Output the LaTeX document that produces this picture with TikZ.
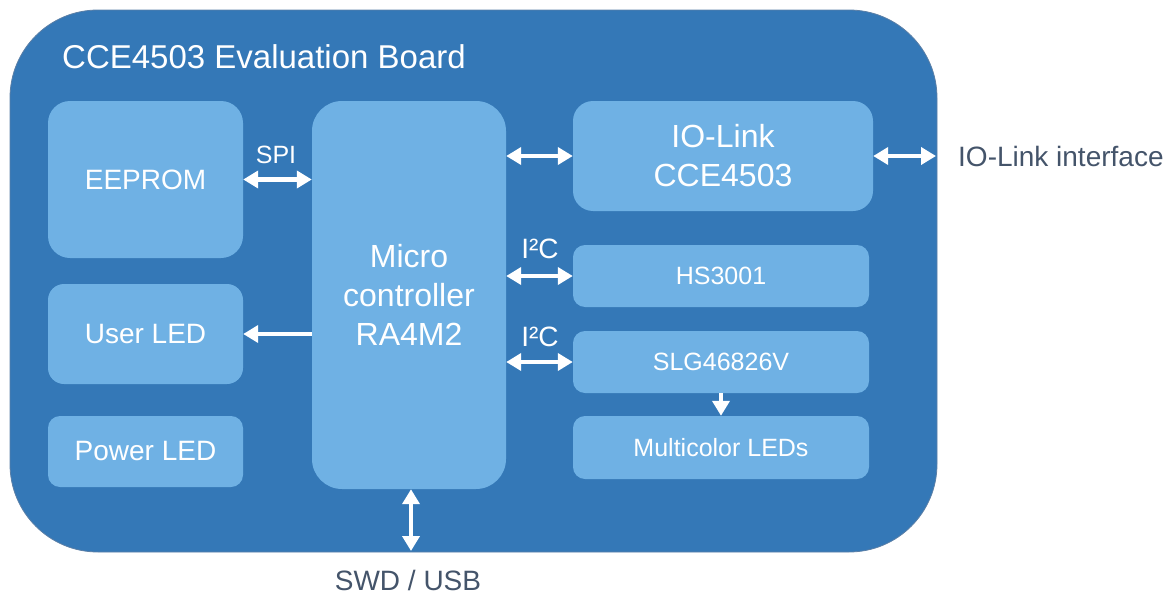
\documentclass[tikz,border=0pt]{standalone}
\usepackage{fontspec}
\setmainfont{Liberation Sans}
\usetikzlibrary{arrows.meta}
\definecolor{board}{HTML}{3478B7}
\definecolor{boardline}{HTML}{5B7FA6}
\definecolor{blk}{HTML}{6FB1E4}
\definecolor{dtext}{HTML}{44546A}
\tikzset{
  blkbox/.style={fill=blk, draw=none, text=white, align=center, inner sep=0pt},
  dbl/.style={draw=white, line width=4.4pt, {Triangle[length=15pt,width=17pt]}-{Triangle[length=15pt,width=17pt]}},
  sgl/.style={draw=white, line width=4.4pt, -{Triangle[length=15pt,width=17pt]}},
  lbl/.style={text=white, inner sep=0pt},
  fs/.style={font=\fontsize{#1}{39}\selectfont}
}
\begin{document}
\begin{tikzpicture}[x=1pt,y=-1pt]
\useasboundingbox (0,0) rectangle (1176,597);
% board
\draw[fill=board, draw=boardline, line width=0.8pt, rounded corners=88pt] (10,10) rectangle (937,552);
\node[lbl, anchor=base west, fs=33] (title) at (62,68) {CCE4503 Evaluation Board};
% blocks
\node[blkbox, rounded corners=22pt, minimum width=195pt, minimum height=157pt, fs=28] (eeprom) at (145.5,179.5) {EEPROM};
\node[blkbox, rounded corners=16pt, minimum width=195pt, minimum height=100pt, fs=28] (uled) at (145.5,334) {User LED};
\node[blkbox, rounded corners=12pt, minimum width=195pt, minimum height=71pt, fs=28] (pled) at (145.5,451.5) {Power LED};
\node[blkbox, rounded corners=30pt, minimum width=194pt, minimum height=388pt, fs=32] (mcu) at (409,295) {Micro\\controller\\RA4M2};
\node[blkbox, rounded corners=20pt, minimum width=300pt, minimum height=110pt, fs=32] (io) at (723,156) {IO-Link\\CCE4503};
\node[blkbox, rounded corners=12pt, minimum width=296pt, minimum height=62pt, fs=25] (hs) at (721,276) {HS3001};
\node[blkbox, rounded corners=12pt, minimum width=296pt, minimum height=62pt, fs=25] (slg) at (721,362) {SLG46826V};
\node[blkbox, rounded corners=12pt, minimum width=296pt, minimum height=63pt, fs=25] (mled) at (721,447.5) {Multicolor LEDs};
% outside labels
\node[anchor=west, inner sep=0pt, text=dtext, fs=28] (iface) at (958,156) {IO-Link interface};
\node[inner sep=0pt, text=dtext, fs=28] (swdl) at (408,580) {SWD / USB};
\coordinate (swd) at (411,551);
% connector labels
\node[lbl, fs=25] (spi) at (276,155) {SPI};
\node[lbl, fs=28] (i2ca) at (540,249) {I²C};
\node[lbl, fs=28] (i2cb) at (540,337) {I²C};
% connectors
\draw[dbl] (eeprom.east) -- (mcu.west |- eeprom.east);
\draw[dbl] (mcu.east |- io.west) -- (io.west);
\draw[dbl] (io.east) -- ([xshift=-22pt]iface.west);
\draw[sgl] (mcu.west |- uled.east) -- (uled.east);
\draw[dbl] (mcu.east |- hs.west) -- (hs.west);
\draw[dbl] (mcu.east |- slg.west) -- (slg.west);
\draw[sgl] (slg.south) -- (mled.north);
\draw[dbl] (mcu.south -| swd) -- (swd);
\end{tikzpicture}
\end{document}
